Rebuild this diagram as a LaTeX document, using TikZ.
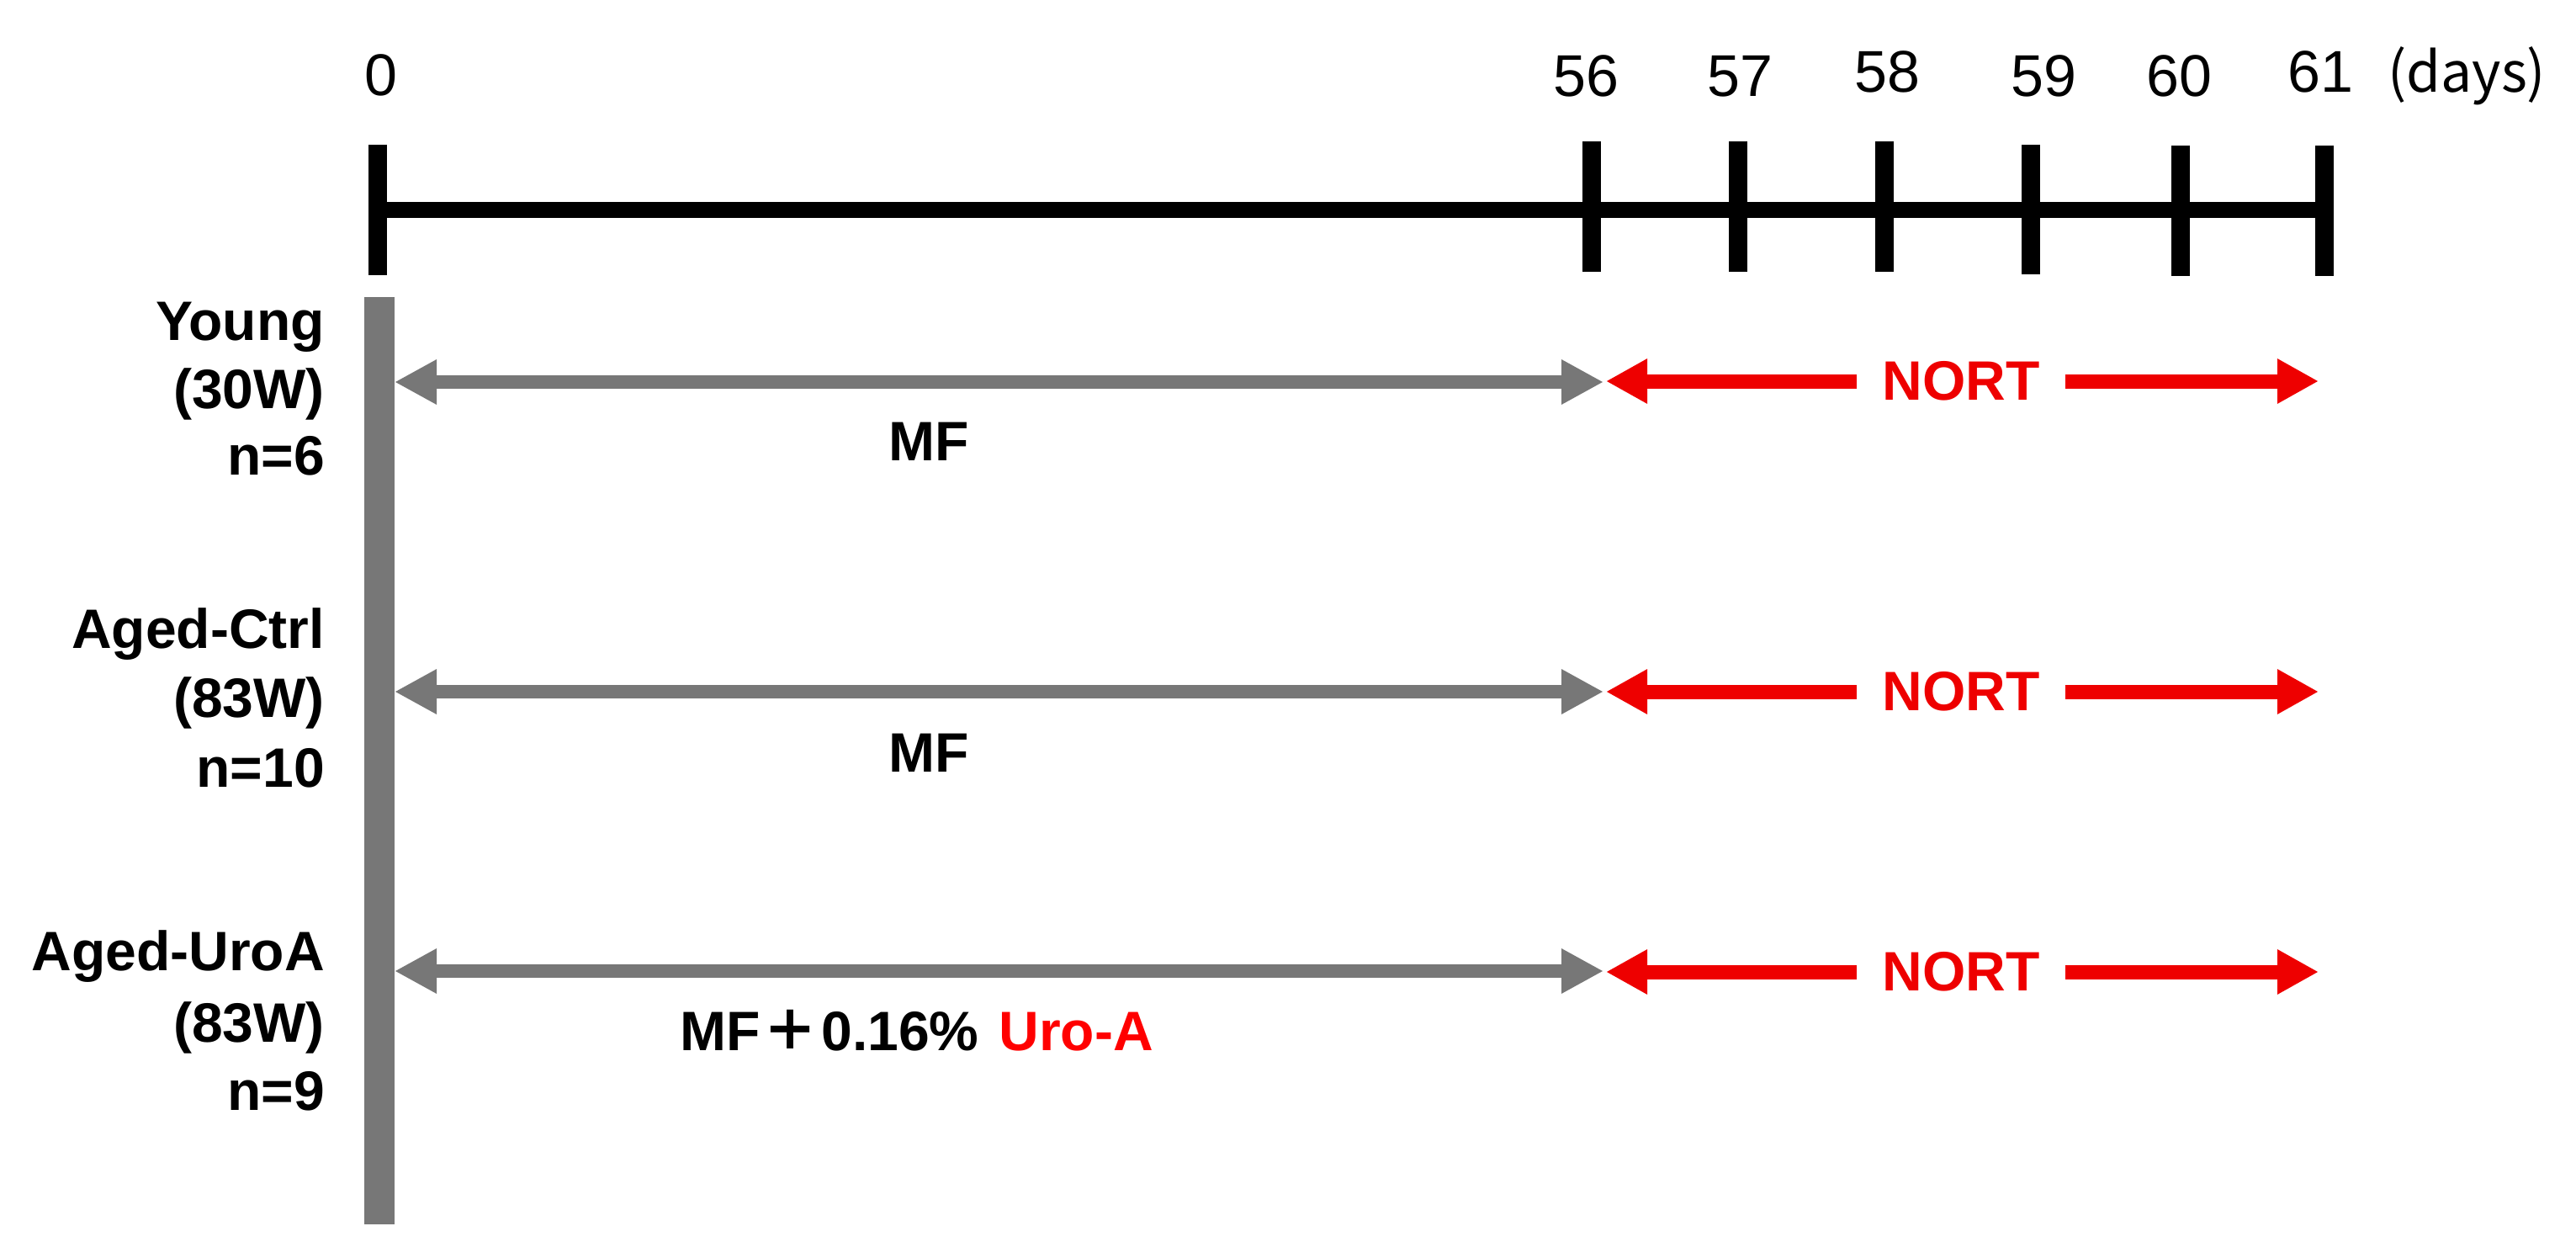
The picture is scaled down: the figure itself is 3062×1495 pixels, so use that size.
\documentclass[tikz,border=0pt]{standalone}
\usepackage{fontspec}
\setmainfont{Liberation Sans}
\newfontfamily\cjk{Noto Sans CJK JP}
\usetikzlibrary{arrows.meta}
\definecolor{barGray}{HTML}{777777}
\definecolor{nortRed}{HTML}{EE0000}
\definecolor{uroRed}{HTML}{FF0000}
\begin{document}
\begin{tikzpicture}[x=1pt,y=-1pt,
  grp/.style={font=\fontsize{66}{80}\selectfont\bfseries, inner sep=0pt, anchor=base east},
  daynum/.style={font=\fontsize{70}{84}\selectfont, inner sep=0pt, anchor=base},
  tickmark/.style={line width=22pt},
  mfarrow/.style={barGray, line width=16pt, {Triangle[length=50pt,width=50pt]}-{Triangle[length=50pt,width=50pt]}},
  nortarrow/.style={nortRed, line width=17pt, -{Triangle[length=49pt,width=50pt]}},
  nortlbl/.style={font=\fontsize{66}{80}\selectfont\bfseries, text=nortRed, inner xsep=30pt, inner ysep=0pt},
  mflbl/.style={font=\fontsize{66}{80}\selectfont\bfseries, inner sep=0pt, anchor=base west},
]
\path[use as bounding box] (0,0) rectangle (3062,1495);

% timeline
\coordinate (t0) at (449,249.5);
\coordinate (t61) at (2763,249.5);
\draw[line width=19pt] (t0) -- (t61);
\foreach \x/\a/\b in {449/172/327, 1892/168/323, 2066/168/323, 2240/168/323, 2414/172/326, 2592/173/328, 2763/173/328}
  \draw[tickmark] (\x,\a) -- (\x,\b);

% day numbers
\node[daynum] (d0) at (453,114) {0};
\node[daynum] (d56) at (1885,115) {56};
\node[daynum] (d57) at (2068,115) {57};
\node[daynum] (d58) at (2243,110) {58};
\node[daynum] (d59) at (2429,115) {59};
\node[daynum] (d60) at (2590,115) {60};
\node[daynum] (d61) at (2758,110) {61};
\node[font=\cjk\fontsize{66}{80}\selectfont, inner sep=0pt, anchor=base west] (days) at (2838,110) {(days)};

% vertical gray bar
\node[fill=barGray, minimum width=36pt, minimum height=1102pt, inner sep=0pt, anchor=north] (bar) at (451,353) {};

% group labels
\node[grp] (g1a) at (386,404) {Young};
\node[grp] (g1b) at (386,485) {(30W)};
\node[grp] (g1c) at (386,564) {n=6};
\node[grp] (g2a) at (386,770) {Aged-Ctrl};
\node[grp] (g2b) at (386,852) {(83W)};
\node[grp] (g2c) at (386,935) {n=10};
\node[grp] (g3a) at (386,1153) {Aged-UroA};
\node[grp] (g3b) at (386,1238) {(83W)};
\node[grp] (g3c) at (386,1319) {n=9};

% rows
\foreach \r/\y/\ry in {1/454/453, 2/822/822, 3/1154/1155} {
  \coordinate (a\r) at (469,\y);
  \coordinate (b\r) at (1906,\y);
  \coordinate (c\r) at (1909,\ry);
  \coordinate (e\r) at (2756,\ry);
  \draw[mfarrow] (a\r) -- (b\r);
  \node[nortlbl] (n\r) at (2331,\ry) {NORT};
  \draw[nortarrow] (n\r.west) -- (c\r);
  \draw[nortarrow] (n\r.east) -- (e\r);
}

% diet labels
\node[mflbl] (mf1) at (1056,547) {MF};
\node[mflbl] (mf2) at (1056,917) {MF};
\node[mflbl] (mf3) at (808,1248) {MF\hspace{3pt}{\cjk ＋}\hspace{4pt}0.16\%\hspace{24pt}\textcolor{uroRed}{Uro-A}};
\end{tikzpicture}
\end{document}
